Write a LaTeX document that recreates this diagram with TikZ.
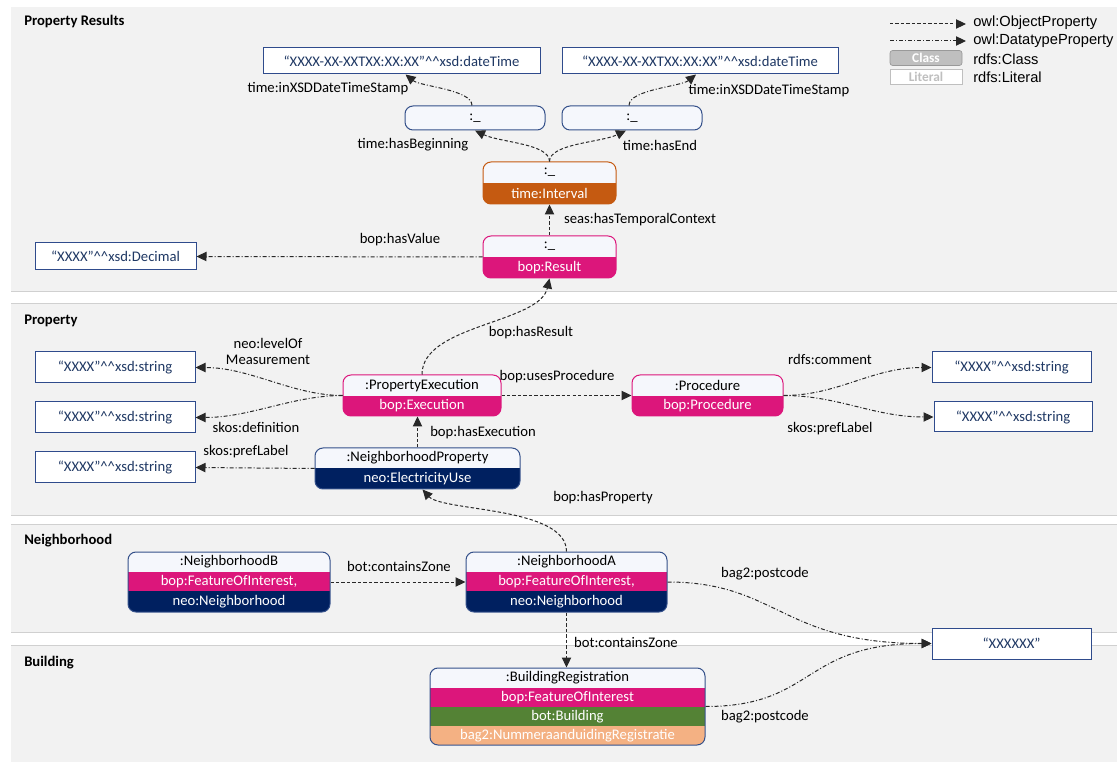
\documentclass[tikz,border=0pt]{standalone}
\usepackage{fontspec}
\setmainfont{Carlito}
\newfontfamily\legfont{Liberation Sans}
\usetikzlibrary{arrows.meta,calc}
\definecolor{bandgray}{RGB}{242,242,242}
\definecolor{bandline}{RGB}{208,208,208}
\definecolor{cMag}{RGB}{220,22,123}
\definecolor{cNavy}{RGB}{0,32,96}
\definecolor{cOrange}{RGB}{197,90,17}
\definecolor{cGreen}{RGB}{84,130,53}
\definecolor{cPeach}{RGB}{244,177,131}
\definecolor{toprow}{RGB}{245,247,252}
\definecolor{frameblue}{RGB}{52,80,138}
\definecolor{litb}{RGB}{47,75,140}
\definecolor{littext}{RGB}{31,56,100}
\definecolor{edgec}{RGB}{40,40,40}
\definecolor{leggray}{RGB}{191,191,191}
\newcommand\clsframe[6]{\node[clsbox, draw=#6, minimum width={(#4-#2)*0.75pt}, minimum height={(#5-#3)*0.75pt}] (#1) at ({(#2+#4)/2},{(#3+#5)/2}) {};}
\newcommand\crow[8]{\fill[#6] (#2,#3) rectangle (#4,#5); \node[rowtxt, text=#7] (#1) at ({(#2+#4)/2},{(#3+#5)/2}) {#8};}
\tikzset{
  clsbox/.style={rounded corners=6pt, line width=0.75pt, inner sep=0pt},
  rowtxt/.style={inner sep=0pt},
  lit/.style={draw=litb, fill=white, text=littext, line width=0.75pt, inner sep=0pt},
  lbl/.style={inner sep=0pt, text=black},
  sectitle/.style={inner sep=0pt, anchor=west, font=\fontsize{11}{13}\selectfont\bfseries},
  obj/.style={draw=edgec, line width=0.75pt, dash pattern=on 2.5pt off 1.6pt, -{Triangle[length=7.5pt,width=7pt]}},
  dat/.style={draw=edgec, line width=0.75pt, dash pattern=on 3pt off 1.5pt on 0.75pt off 1.5pt, -{Triangle[length=7.5pt,width=7pt]}},
  legtxt/.style={inner sep=0pt, anchor=west, font=\legfont\fontsize{11}{13}\selectfont},
}
\begin{document}
\begin{tikzpicture}[x=0.75pt, y=-0.75pt, font=\fontsize{11}{13}\selectfont]
\useasboundingbox (0,0) rectangle (1117,762);
\fill[white] (0,0) rectangle (1117,762);
% bands
\fill[bandgray] (11,7) rectangle (1117,292);
\fill[bandgray] (11,304) rectangle (1117,515);
\fill[bandgray] (11,524) rectangle (1117,632);
\fill[bandgray] (11,645) rectangle (1117,762);
\foreach \yy in {292,304,515,524,632,645} \draw[bandline, line width=0.75pt] (11,\yy) -- (1117,\yy);
\node[sectitle] (t1) at (24,22) {Property Results};
\node[sectitle] (t2) at (24,321) {Property};
\node[sectitle] (t3) at (24,541) {Neighborhood};
\node[sectitle] (t4) at (24,663) {Building};

% legend
\coordinate (lg1a) at (890,24); \coordinate (lg1b) at (966,24);
\draw[obj] (lg1a) -- (lg1b);
\node[legtxt] (lg1t) at (973,23) {owl:ObjectProperty};
\coordinate (lg2a) at (890,41); \coordinate (lg2b) at (966,41);
\draw[dat] (lg2a) -- (lg2b);
\node[legtxt] (lg2t) at (973,41) {owl:DatatypeProperty};
\node[fill=leggray, draw=leggray!80!black, line width=0.5pt, rounded corners=2pt, minimum width={72*0.75pt}, minimum height={15*0.75pt}, inner sep=0pt, text=white, font=\fontsize{10}{11}\selectfont\bfseries] (lgc) at (926,58) {Class};
\node[legtxt] (lgct) at (973,59) {rdfs:Class};
\node[fill=white, draw=leggray, line width=0.5pt, minimum width={72*0.75pt}, minimum height={15*0.75pt}, inner sep=0pt, text=leggray, font=\fontsize{10}{11}\selectfont\bfseries] (lgl) at (926,76.5) {Literal};
\node[legtxt] (lglt) at (973,77) {rdfs:Literal};

% literals top
\node[lit, minimum width={277*0.75pt}, minimum height={26*0.75pt}] (dtL) at (401.5,61) {“XXXX-XX-XXTXX:XX:XX”\^{}\^{}xsd:dateTime};
\node[lit, minimum width={276*0.75pt}, minimum height={26*0.75pt}] (dtR) at (700,61) {“XXXX-XX-XXTXX:XX:XX”\^{}\^{}xsd:dateTime};
% blank nodes
\node[clsbox, draw=frameblue, fill=toprow, minimum width={140*0.75pt}, minimum height={24*0.75pt}] (bL) at (475,118) {:\_};
\node[clsbox, draw=frameblue, fill=toprow, minimum width={140*0.75pt}, minimum height={24*0.75pt}] (bR) at (632,118) {:\_};
% interval
\begin{scope}
\clip[rounded corners=6pt] (483,162) rectangle (616,204);
\crow{interval-a}{483}{162}{616}{183}{toprow}{black}{:\_}
\crow{interval-b}{483}{183}{616}{204}{cOrange}{white}{time:Interval}
\end{scope}
\clsframe{interval}{483}{162}{616}{204}{cOrange}
% result
\begin{scope}
\clip[rounded corners=6pt] (483,236) rectangle (616,278);
\crow{result-a}{483}{236}{616}{257}{toprow}{black}{:\_}
\crow{result-b}{483}{257}{616}{278}{cMag}{white}{bop:Result}
\end{scope}
\clsframe{result}{483}{236}{616}{278}{cMag}
\node[lit, minimum width={161*0.75pt}, minimum height={27*0.75pt}] (dec) at (115.5,256.5) {“XXXX”\^{}\^{}xsd:Decimal};

% property execution
\begin{scope}
\clip[rounded corners=6pt] (343,375) rectangle (501,416);
\crow{pe-a}{343}{375}{501}{396}{toprow}{black}{:PropertyExecution}
\crow{pe-b}{343}{396}{501}{416}{cMag}{white}{bop:Execution}
\end{scope}
\clsframe{pe}{343}{375}{501}{416}{cMag}
% procedure
\begin{scope}
\clip[rounded corners=6pt] (632,375) rectangle (783,416);
\crow{proc-a}{632}{375}{783}{396}{toprow}{black}{:Procedure}
\crow{proc-b}{632}{396}{783}{416}{cMag}{white}{bop:Procedure}
\end{scope}
\clsframe{proc}{632}{375}{783}{416}{cMag}
% neighborhood property
\begin{scope}
\clip[rounded corners=6pt] (315,448) rectangle (520,489);
\crow{np-a}{315}{448}{520}{468}{toprow}{black}{:NeighborhoodProperty}
\crow{np-b}{315}{468}{520}{489}{cNavy}{white}{neo:ElectricityUse}
\end{scope}
\clsframe{np}{315}{448}{520}{489}{frameblue}
% literals property
\node[lit, minimum width={160*0.75pt}, minimum height={31*0.75pt}] (litL1) at (115,367.5) {“XXXX”\^{}\^{}xsd:string};
\node[lit, minimum width={160*0.75pt}, minimum height={31*0.75pt}] (litL2) at (115,417.5) {“XXXX”\^{}\^{}xsd:string};
\node[lit, minimum width={160*0.75pt}, minimum height={31*0.75pt}] (litL3) at (115,467.5) {“XXXX”\^{}\^{}xsd:string};
\node[lit, minimum width={159*0.75pt}, minimum height={31*0.75pt}] (litR1) at (1011.5,367.5) {“XXXX”\^{}\^{}xsd:string};
\node[lit, minimum width={158*0.75pt}, minimum height={30*0.75pt}] (litR2) at (1013,417) {“XXXX”\^{}\^{}xsd:string};

% neighborhoods
\begin{scope}
\clip[rounded corners=6pt] (128,552) rectangle (330,612);
\crow{nb-a}{128}{552}{330}{572}{toprow}{black}{:NeighborhoodB}
\crow{nb-b}{128}{572}{330}{591}{cMag}{white}{bop:FeatureOfInterest,}
\crow{nb-c}{128}{591}{330}{612}{cNavy}{white}{neo:Neighborhood}
\end{scope}
\clsframe{nb}{128}{552}{330}{612}{frameblue}
\begin{scope}
\clip[rounded corners=6pt] (466,552) rectangle (667,612);
\crow{na-a}{466}{552}{667}{572}{toprow}{black}{:NeighborhoodA}
\crow{na-b}{466}{572}{667}{591}{cMag}{white}{bop:FeatureOfInterest,}
\crow{na-c}{466}{591}{667}{612}{cNavy}{white}{neo:Neighborhood}
\end{scope}
\clsframe{na}{466}{552}{667}{612}{frameblue}
\node[lit, minimum width={159*0.75pt}, minimum height={31*0.75pt}] (pc) at (1011.5,643.5) {“XXXXXX”};

% building
\begin{scope}
\clip[rounded corners=6pt] (430,668) rectangle (705,745);
\crow{br-a}{430}{668}{705}{688}{toprow}{black}{:BuildingRegistration}
\crow{br-b}{430}{688}{705}{707}{cMag}{white}{bop:FeatureOfInterest}
\crow{br-c}{430}{707}{705}{726}{cGreen}{white}{bot:Building}
\crow{br-d}{430}{726}{705}{745}{cPeach}{white}{bag2:NummeraanduidingRegistratie}
\end{scope}
\clsframe{br}{430}{668}{705}{745}{frameblue}

% edges
\draw[obj] (interval.north) .. controls +(0,-18) and +(25,12) .. (bL.south);
\draw[obj] (interval.north) .. controls +(0,-18) and +(-25,12) .. ($(bR.south)+(-6,0)$);
\draw[dat] ($(bL.north)+(-3,0)$) .. controls +(0,-16) and +(15,12) .. ($(dtL.south)+(4,0)$);
\draw[dat] ($(bR.north)+(-3,0)$) .. controls +(0,-16) and +(-15,12) .. ($(dtR.south)+(-4,0)$);
\draw[obj] (result.north) -- (interval.south);
\draw[dat] (result.west) -- (dec.east);
\draw[obj] (pe.north) .. controls +(0,-50) and +(-10,45) .. (result.south);
\draw[dat] (pe.west) .. controls +(-50,0) and +(55,0) .. (litL1.east);
\draw[dat] (pe.west) .. controls +(-50,0) and +(55,0) .. (litL2.east);
\draw[obj] (pe.east) -- (proc.west);
\draw[dat] (proc.east) .. controls +(55,0) and +(-60,0) .. (litR1.west);
\draw[dat] (proc.east) .. controls +(55,0) and +(-60,0) .. (litR2.west);
\draw[obj] (np.north) -- (np.north |- pe.south);
\draw[dat] (np.west) -- (litL3.east);
\draw[obj] (na.north) .. controls +(0,-45) and +(20,22) .. ($(np.south)+(5,0)$);
\draw[obj] (nb.east) -- (na.west);
\draw[dat] (na.east) .. controls +(110,0) and +(-150,0) .. (pc.west);
\draw[obj] (na.south) -- (na.south |- br.north);
\draw[dat] (br.east) .. controls +(110,0) and +(-130,0) .. (pc.west);

% labels
\node[lbl] (l1) at (328,89) {time:inXSDDateTimeStamp};
\node[lbl] (l2) at (769,91) {time:inXSDDateTimeStamp};
\node[lbl] (l3) at (413,145) {time:hasBeginning};
\node[lbl] (l4) at (660,145) {time:hasEnd};
\node[lbl] (l5) at (640,220) {seas:hasTemporalContext};
\node[lbl] (l6) at (400,240) {bop:hasValue};
\node[lbl] (l7) at (531,333) {bop:hasResult};
\node[lbl, align=center] (l8) at (268,351.5) {neo:levelOf\\[-1pt]Measurement};
\node[lbl] (l9) at (256,427) {skos:definition};
\node[lbl] (l10) at (246,452) {skos:prefLabel};
\node[lbl] (l11) at (557,377) {bop:usesProcedure};
\node[lbl] (l12) at (483,433) {bop:hasExecution};
\node[lbl] (l13) at (830,359) {rdfs:comment};
\node[lbl] (l14) at (830,429) {skos:prefLabel};
\node[lbl] (l15) at (603,498) {bop:hasProperty};
\node[lbl] (l16) at (399,566) {bot:containsZone};
\node[lbl] (l17) at (765,574) {bag2:postcode};
\node[lbl] (l18) at (626,642) {bot:containsZone};
\node[lbl] (l19) at (765,717) {bag2:postcode};
\end{tikzpicture}
\end{document}
